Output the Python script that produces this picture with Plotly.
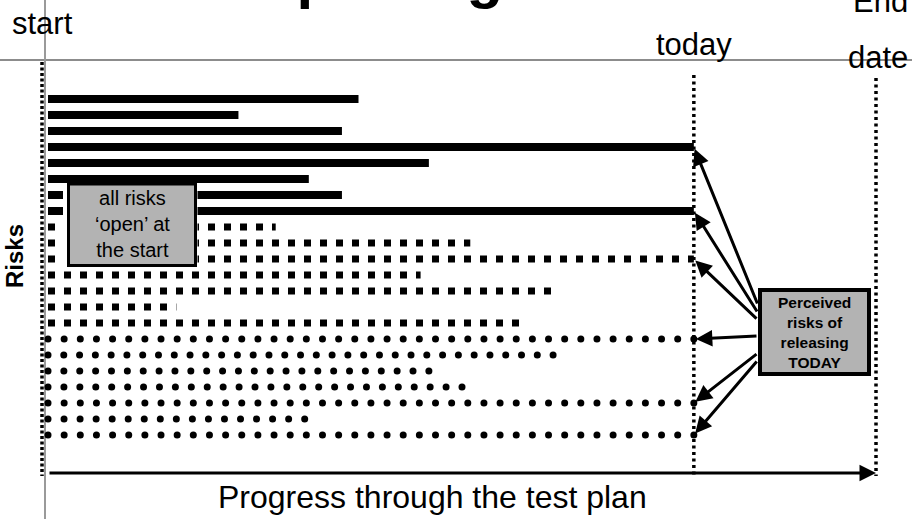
import numpy as np
import plotly.graph_objects as go

# ---------------- data ----------------
start_progress = 0
today_progress = 78
end_progress = 100

solid_risk_rows = [1, 2, 3, 4, 5, 6, 7, 8]
solid_risk_ends = [37.5, 23, 35.5, 78, 46, 31.5, 35.5, 78]

square_risk_rows = [9, 10, 11, 12, 13, 14, 15]
square_risk_ends = [27.5, 51, 78, 45, 61.5, 15.5, 57.5]

dot_risk_rows = [16, 17, 18, 19, 20, 21, 22]
dot_risk_ends = [78, 61, 46, 50, 78, 31, 78]

title_text = "Risk-based reporting"
x_axis_label = "Progress through the test plan"
y_axis_label = "Risks"
start_label = "start"
today_label = "today"
end_label_top = "End"
end_label_bottom = "date"
open_box_text = "all risks<br>‘open’ at<br>the start"
today_box_text = "Perceived<br>risks of<br>releasing<br>TODAY"

# ---------------- layout constants ----------------
W, H = 912, 519
X0_PX = 48.0          # pixel of progress 0
PX_PER_UNIT = 8.28    # pixels per progress unit
ROW1_PX = 99.0        # pixel of first risk row
ROW_PX = 16.0         # pixels between rows
DOT_PITCH_PX = 16.0
FONT = "Liberation Sans, Arial, sans-serif"


def PX(x):
    return x / W


def PY(y):
    return 1 - y / H


x_range = [(0 - X0_PX) / PX_PER_UNIT, (W - X0_PX) / PX_PER_UNIT]
y_range = [1 + (H - ROW1_PX) / ROW_PX, 1 - ROW1_PX / ROW_PX]


def row_px(r):
    return ROW1_PX + ROW_PX * (r - 1)


def seg_xy(rows, ends):
    xs, ys = [], []
    for r, e in zip(rows, ends):
        xs += [start_progress, e, None]
        ys += [r, r, None]
    return xs, ys


fig = go.Figure()

# solid bars
sx, sy = seg_xy(solid_risk_rows, solid_risk_ends)
fig.add_trace(go.Scatter(x=sx, y=sy, mode="lines",
                         line=dict(color="black", width=8), hoverinfo="skip"))

# square-dashed rows
qx, qy = seg_xy(square_risk_rows, square_risk_ends)
fig.add_trace(go.Scatter(x=qx, y=qy, mode="lines",
                         line=dict(color="black", width=7, dash="7px,9px"),
                         hoverinfo="skip"))

# dotted rows (circles along each risk line)
pitch_units = DOT_PITCH_PX / PX_PER_UNIT
dx, dy = [], []
for r, e in zip(dot_risk_rows, dot_risk_ends):
    n = int(round((e - start_progress) / pitch_units))
    pts = np.linspace(start_progress, e, n + 1)
    dx += list(pts)
    dy += [r] * len(pts)
fig.add_trace(go.Scatter(x=dx, y=dy, mode="markers",
                         marker=dict(color="black", size=7, symbol="circle",
                                     line=dict(width=0)),
                         hoverinfo="skip"))

shapes = []
# gray frame lines
shapes.append(dict(type="line", xref="paper", yref="paper",
                   x0=0, x1=1, y0=PY(60), y1=PY(60),
                   line=dict(color="#8c8c8c", width=2), layer="below"))
shapes.append(dict(type="line", xref="paper", yref="paper",
                   x0=PX(45), x1=PX(45), y0=0, y1=1,
                   line=dict(color="#9a9a9a", width=2), layer="below"))
# start dotted line
shapes.append(dict(type="line", xref="paper", yref="paper",
                   x0=PX(42), x1=PX(42), y0=PY(62), y1=PY(476),
                   line=dict(color="black", width=3.5, dash="3px,2.5px"),
                   layer="above"))
# today & end dotted lines
for xv, top in [(today_progress, 75), (end_progress, 78)]:
    shapes.append(dict(type="line", xref="x", yref="paper",
                       x0=xv, x1=xv, y0=PY(top), y1=PY(476),
                       line=dict(color="black", width=3.5, dash="3px,3.5px"),
                       layer="above"))

# "all risks open" box with white halo
shapes.append(dict(type="rect", xref="paper", yref="paper",
                   x0=PX(63), x1=PX(197.5), y0=PY(269), y1=PY(183),
                   fillcolor="white", line=dict(width=0), layer="above"))
shapes.append(dict(type="rect", xref="paper", yref="paper",
                   x0=PX(68.5), x1=PX(195.5), y0=PY(265.5), y1=PY(184),
                   fillcolor="#b3b3b3", line=dict(color="black", width=3),
                   layer="above"))
# "perceived risks" box
shapes.append(dict(type="rect", xref="paper", yref="paper",
                   x0=PX(760), x1=PX(869), y0=PY(374), y1=PY(290),
                   fillcolor="#b3b3b3", line=dict(color="black", width=4),
                   layer="above"))
fig.update_layout(shapes=shapes)

ann = []
# title (cut off at top of slide)
ann.append(dict(xref="paper", yref="paper", x=PX(-99), y=PY(12),
                xanchor="left", yanchor="bottom", showarrow=False,
                text="<b>" + title_text + "</b>",
                font=dict(family=FONT, size=60, color="black")))
# labels
ann.append(dict(xref="paper", yref="paper", x=PX(42), y=PY(24),
                xanchor="center", yanchor="middle", showarrow=False,
                text=start_label, font=dict(family=FONT, size=31, color="black")))
ann.append(dict(xref="x", yref="paper", x=today_progress, y=PY(44),
                xanchor="center", yanchor="middle", showarrow=False,
                text=today_label, font=dict(family=FONT, size=31, color="black")))
ann.append(dict(xref="paper", yref="paper", x=PX(880), y=PY(1),
                xanchor="center", yanchor="middle", showarrow=False,
                text=end_label_top, font=dict(family=FONT, size=31, color="black")))
ann.append(dict(xref="paper", yref="paper", x=PX(878), y=PY(57),
                xanchor="center", yanchor="middle", showarrow=False,
                text=end_label_bottom, font=dict(family=FONT, size=31, color="black")))
ann.append(dict(xref="paper", yref="paper", x=PX(432), y=PY(497),
                xanchor="center", yanchor="middle", showarrow=False,
                text=x_axis_label, font=dict(family=FONT, size=32, color="black")))
ann.append(dict(xref="paper", yref="paper", x=PX(14), y=PY(256),
                xanchor="center", yanchor="middle", showarrow=False, textangle=-90,
                text="<b>" + y_axis_label + "</b>",
                font=dict(family=FONT, size=24, color="black")))
# box texts
ann.append(dict(xref="paper", yref="paper", x=PX(132), y=PY(224),
                xanchor="center", yanchor="middle", showarrow=False,
                text=open_box_text,
                font=dict(family=FONT, size=20, color="black")))
ann.append(dict(xref="paper", yref="paper", x=PX(814.5), y=PY(332),
                xanchor="center", yanchor="middle", showarrow=False,
                text="<b>" + today_box_text + "</b>",
                font=dict(family=FONT, size=15.5, color="black")))

# progress axis arrow
ann.append(dict(xref="x", yref="paper", x=end_progress, y=PY(473),
                axref="pixel", ayref="pixel",
                ax=-(end_progress - start_progress) * PX_PER_UNIT, ay=0,
                showarrow=True, arrowhead=2, arrowsize=1.1, arrowwidth=3,
                arrowcolor="black", text=""))

# arrows from the "perceived risks" box to risks still open today
tail_offsets_px = [305, 313, 320, 336, 353, 360]
open_today_rows = ([r for r, e in zip(solid_risk_rows, solid_risk_ends) if e == today_progress]
                   + [r for r, e in zip(square_risk_rows, square_risk_ends) if e == today_progress]
                   + [r for r, e in zip(dot_risk_rows, dot_risk_ends) if e == today_progress])
box_left_px = 758
today_px = X0_PX + today_progress * PX_PER_UNIT
for r, ty in zip(open_today_rows, tail_offsets_px):
    tip_y = row_px(r)
    ann.append(dict(xref="x", yref="y", x=today_progress, y=r,
                    ax=box_left_px - today_px, ay=ty - tip_y,
                    showarrow=True, arrowhead=2, arrowsize=1.1, arrowwidth=3,
                    arrowcolor="black", standoff=2, text=""))

fig.update_layout(
    annotations=ann,
    width=W, height=H,
    margin=dict(l=0, r=0, t=0, b=0, pad=0),
    paper_bgcolor="white", plot_bgcolor="white",
    showlegend=False,
    hovermode=False,
    xaxis=dict(range=x_range, visible=False, fixedrange=True),
    yaxis=dict(range=y_range, visible=False, fixedrange=True),
)

fig.write_html("out.html",
               config={"displayModeBar": False, "staticPlot": True},
               post_script="document.body.style.margin='0px';"
                           "document.body.style.overflow='hidden';")
